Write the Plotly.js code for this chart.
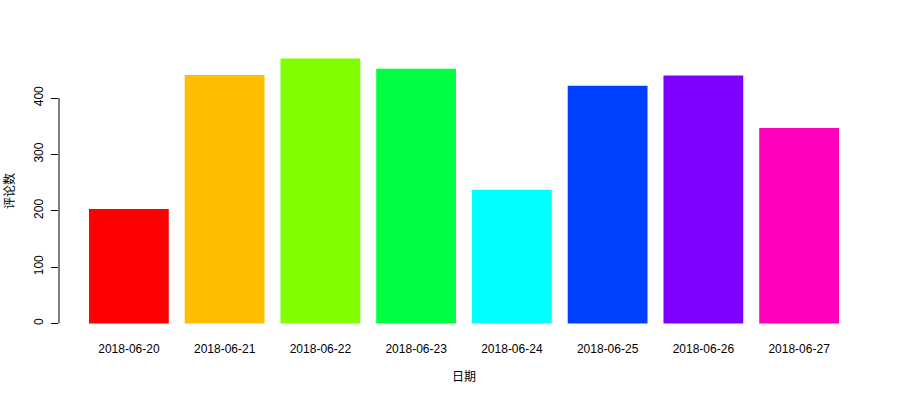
<!DOCTYPE html>
<html>
<head>
<meta charset="utf-8">
<script src="https://cdn.plot.ly/plotly-3.0.1.min.js"></script>
<style>html,body{margin:0;padding:0;background:#fff;}#chart{width:900px;height:400px;}</style>
</head>
<body>
<div id="chart"></div>
<script>
const dates = ['2018-06-20','2018-06-21','2018-06-22','2018-06-23','2018-06-24','2018-06-25','2018-06-26','2018-06-27'];
const comments = [203, 441, 470, 452, 237, 422, 440, 347];
const colors = ['#FF0000','#FFBF00','#80FF00','#00FF40','#00FFFF','#0040FF','#8000FF','#FF00BF'];
const yTicks = [0, 100, 200, 300, 400];

const fontFamily = 'Liberation Sans, Arial, "Noto Sans CJK SC", sans-serif';
const cjkFont = '"Noto Sans CJK SC", Liberation Sans, sans-serif';

const trace = {
  type: 'bar',
  x: dates,
  y: comments,
  marker: {color: colors, line: {width: 0}},
  hoverinfo: 'x+y'
};

const layout = {
  width: 900, height: 400,
  margin: {l: 59, r: 31, t: 48, b: 66},
  paper_bgcolor: '#fff', plot_bgcolor: '#fff',
  bargap: 1 - 1/1.2,
  showlegend: false,
  font: {family: fontFamily, size: 12, color: '#000'},
  xaxis: {
    type: 'category',
    range: [-0.73, 7.73],
    showgrid: false, zeroline: false, showline: false,
    ticks: 'outside', ticklen: 4, tickcolor: 'rgba(0,0,0,0)',
    tickfont: {family: fontFamily, size: 12, color: '#000'},
    title: {text: '日期', font: {family: cjkFont, size: 12, color: '#000'}, standoff: 17}
  },
  yaxis: {
    range: [-18.8, 488.8],
    tickvals: yTicks,
    ticktext: yTicks.map(String),
    tickangle: -90,
    ticklabelstandoff: 3,
    showgrid: false, zeroline: false, showline: false,
    ticks: 'outside', ticklen: 7, tickwidth: 1, tickcolor: '#000',
    tickfont: {family: fontFamily, size: 12, color: '#000'},
    title: {text: '评论数', font: {family: cjkFont, size: 12, color: '#000'}, standoff: 16}
  },
  shapes: [{
    type: 'line', xref: 'paper', yref: 'y',
    x0: 0, x1: 0, y0: yTicks[0], y1: yTicks[yTicks.length - 1],
    line: {color: '#000', width: 1}
  }]
};

Plotly.newPlot('chart', [trace], layout, {displayModeBar: false, staticPlot: true});
</script>
</body>
</html>
